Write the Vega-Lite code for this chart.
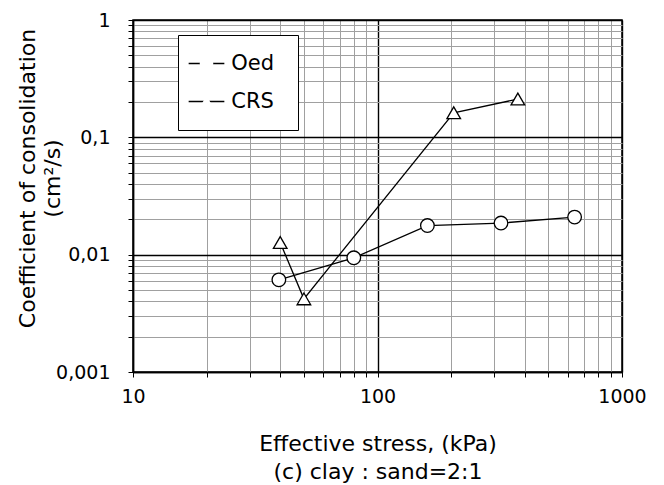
{
  "$schema": "https://vega.github.io/schema/vega-lite/v6.json",
  "width": 489,
  "height": 352,
  "autosize": "none",
  "padding": {"left": 133, "top": 20, "right": 42, "bottom": 113},
  "background": "white",
  "config": {
    "font": "DejaVu Sans",
    "view": {"stroke": "black", "strokeWidth": 1.5},
    "axis": {
      "domainColor": "black",
      "domainWidth": 1.5,
      "tickColor": "black",
      "tickSize": 5,
      "labelColor": "black",
      "titleColor": "black",
      "labelFontSize": 19,
      "titleFontWeight": "normal",
      "labelOverlap": false,
      "labelFlush": false,
      "grid": true,
      "gridOpacity": 1
    }
  },
  "data": {
    "values": [
      {"series": "Oed", "stress": 39.5, "cv": 0.0061},
      {"series": "Oed", "stress": 80, "cv": 0.0094},
      {"series": "Oed", "stress": 160, "cv": 0.0177},
      {"series": "Oed", "stress": 320, "cv": 0.0186},
      {"series": "Oed", "stress": 640, "cv": 0.0209},
      {"series": "CRS", "stress": 40, "cv": 0.0127},
      {"series": "CRS", "stress": 50, "cv": 0.0042},
      {"series": "CRS", "stress": 205, "cv": 0.162},
      {"series": "CRS", "stress": 375, "cv": 0.212}
    ]
  },
  "encoding": {
    "x": {
      "field": "stress",
      "type": "quantitative",
      "scale": {"type": "log", "domain": [10, 1000], "nice": false},
      "axis": {
        "values": [10, 20, 30, 40, 50, 60, 70, 80, 90, 100, 200, 300, 400, 500, 600, 700, 800, 900, 1000],
        "labelExpr": "indexof([10,100,1000], datum.value) >= 0 ? '' + datum.value : ''",
        "labelPadding": 10,
        "gridColor": {"condition": {"test": "abs(log(datum.value)/LN10 - round(log(datum.value)/LN10)) < 0.001", "value": "#000000"}, "value": "#a0a0a0"},
        "gridWidth": {"condition": {"test": "abs(log(datum.value)/LN10 - round(log(datum.value)/LN10)) < 0.001", "value": 1.4}, "value": 1},
        "title": ["Effective stress, (kPa)", "(c) clay : sand=2:1"],
        "titleFontSize": 22,
        "titleBaseline": "alphabetic",
        "titleAlign": "center",
        "titleX": 244.5,
        "titleY": 78,
        "titleLineHeight": 28
      }
    },
    "y": {
      "field": "cv",
      "type": "quantitative",
      "scale": {"type": "log", "domain": [0.001, 1], "nice": false},
      "axis": {
        "values": [0.001, 0.002, 0.003, 0.004, 0.005, 0.006, 0.007, 0.008, 0.009, 0.01, 0.02, 0.03, 0.04, 0.05, 0.06, 0.07, 0.08, 0.09, 0.1, 0.2, 0.3, 0.4, 0.5, 0.6, 0.7, 0.8, 0.9, 1],
        "labelExpr": "datum.value == 1 ? '1' : datum.value == 0.1 ? '0,1' : datum.value == 0.01 ? '0,01' : datum.value == 0.001 ? '0,001' : ''",
        "labelPadding": 18,
        "gridColor": {"condition": {"test": "abs(log(datum.value)/LN10 - round(log(datum.value)/LN10)) < 0.001", "value": "#000000"}, "value": "#a0a0a0"},
        "gridWidth": {"condition": {"test": "abs(log(datum.value)/LN10 - round(log(datum.value)/LN10)) < 0.001", "value": 1.4}, "value": 1},
        "title": ["Coefficient of consolidation", "(cm²/s)"],
        "titleFontSize": 22,
        "titleAngle": 270,
        "titleBaseline": "middle",
        "titleAlign": "center",
        "titleX": -106,
        "titleY": 158,
        "titleLineHeight": 25
      }
    }
  },
  "layer": [
    {
      "mark": {"type": "line", "strokeWidth": 1.3},
      "encoding": {
        "color": {
          "field": "series",
          "type": "nominal",
          "scale": {"domain": ["CRS", "Oed"], "range": ["black", "black"]},
          "legend": {
            "title": null,
            "orient": "none",
            "legendX": 45,
            "legendY": 15,
            "direction": "vertical",
            "symbolType": "stroke",
            "symbolSize": 1274,
            "symbolStrokeWidth": 1.3,
            "symbolStrokeColor": "black",
            "labelFontSize": 37,
            "labelLimit": 34,
            "labelColor": "transparent",
            "labelOffset": 26,
            "padding": 10,
            "rowPadding": 0,
            "strokeColor": "black",
            "fillColor": "white",
            "zindex": 0,
            "encode": {"legend": {"strokeWidth": {"value": 1.5}}}
          }
        }
      }
    },
    {
      "mark": {"type": "point", "filled": true, "fill": "white", "stroke": "black", "strokeWidth": 1.3, "size": 185, "opacity": 1},
      "encoding": {
        "shape": {
          "field": "series",
          "type": "nominal",
          "scale": {"domain": ["Oed", "CRS"], "range": ["circle", "triangle-up"]},
          "legend": {
            "title": null,
            "orient": "none",
            "legendX": 66.7,
            "legendY": 33,
            "direction": "vertical",
            "symbolSize": 185,
            "symbolOffset": -3.7,
            "symbolStrokeWidth": 1.3,
            "symbolFillColor": "white",
            "symbolStrokeColor": "black",
            "labelFontSize": 21,
            "labelColor": "black",
            "labelOffset": 14.3,
            "padding": 0,
            "rowPadding": 16,
            "zindex": 1,
            "encode": {
              "symbols": {"fill": {"value": "white"}, "stroke": {"value": "black"}, "strokeWidth": {"value": 1.3}, "opacity": {"value": 1}}
            }
          }
        }
      }
    }
  ]
}
